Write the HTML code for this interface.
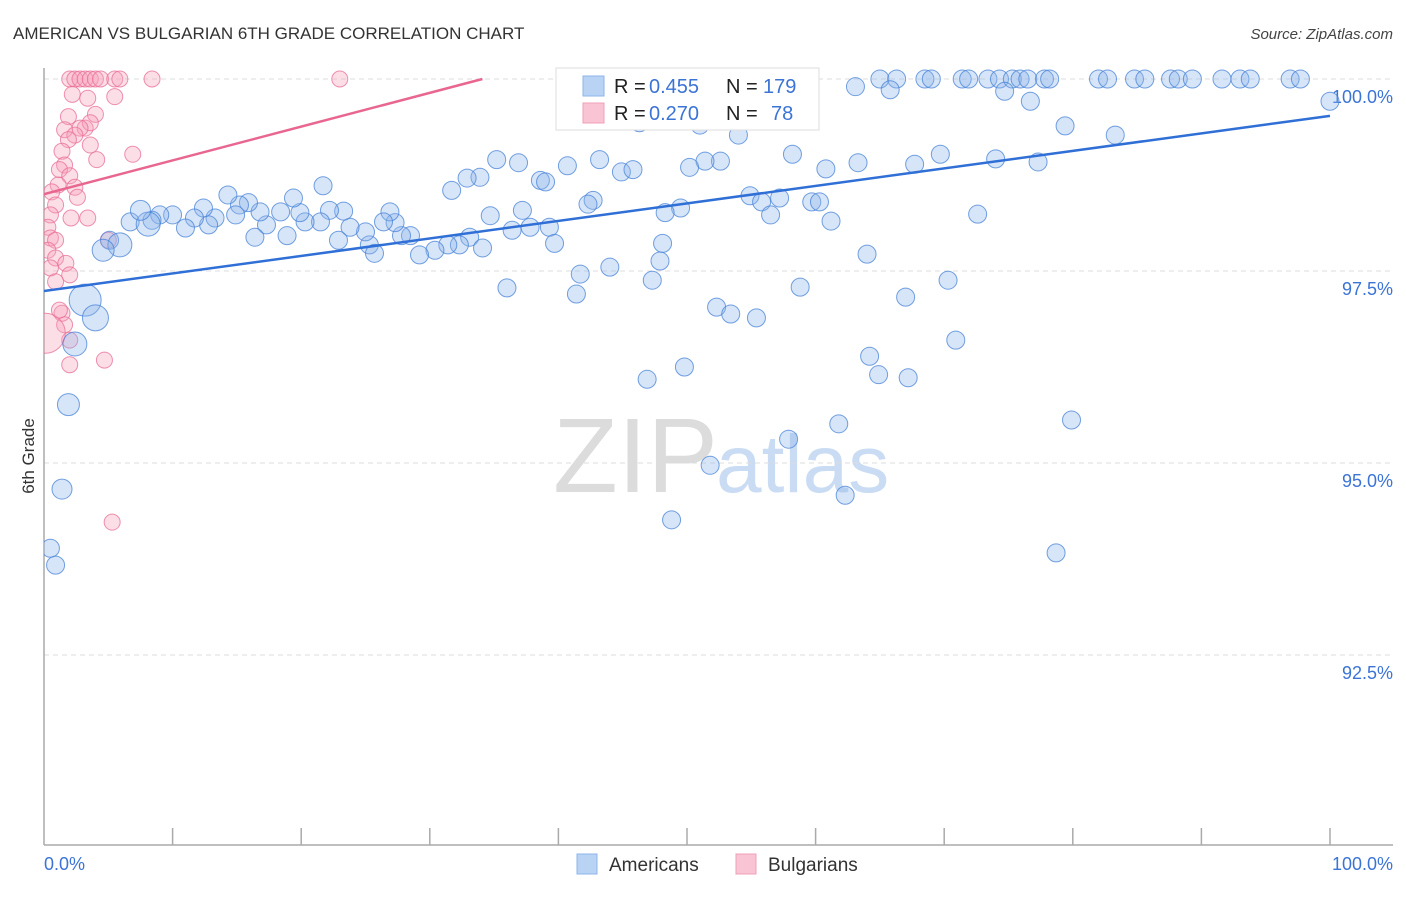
<!DOCTYPE html>
<html><head><meta charset="utf-8">
<style>
html,body{margin:0;padding:0;background:#fff;}
body{width:1406px;height:892px;overflow:hidden;font-family:"Liberation Sans",sans-serif;}
svg text{font-family:"Liberation Sans",sans-serif;}
</style></head>
<body>
<svg id="chart" width="1406" height="892" viewBox="0 0 1406 892" xmlns="http://www.w3.org/2000/svg">
<text x="13" y="39" font-size="17" fill="#333">AMERICAN VS BULGARIAN 6TH GRADE CORRELATION CHART</text>
<text x="1393" y="39" font-size="15" fill="#444" text-anchor="end" font-style="italic">Source: ZipAtlas.com</text>
<g>
<text x="553" y="492" font-size="106" fill="#dcdcdc" font-family="Liberation Serif, serif">ZIP</text>
<text x="716" y="492" font-size="82" fill="#c9dcf3">atlas</text>
</g>
<g id="grid"></g>
<g id="axes"></g>
<defs><clipPath id="clip"><rect x="44" y="60" width="1360" height="785"/></clipPath></defs>
<g id="pinkPts" clip-path="url(#clip)"></g>
<g id="bluePts" clip-path="url(#clip)"></g>
<g id="lines" clip-path="url(#clip)"></g>
<text transform="translate(34,456) rotate(-90)" font-size="17" fill="#333" text-anchor="middle">6th Grade</text>
<text x="44" y="870" font-size="18" fill="#3b74d6">0.0%</text>
<text x="1393" y="870" font-size="18" fill="#3b74d6" text-anchor="end">100.0%</text>
<g>
<rect x="556" y="68" width="263" height="62" fill="#fff" stroke="#ddd"/>
<rect x="583" y="76" width="21" height="20" fill="#b9d3f5" stroke="#8db4ea"/>
<rect x="583" y="103" width="21" height="20" fill="#f9c5d4" stroke="#f0a0b8"/>
<text x="614" y="93" font-size="20" fill="#222">R =</text>
<text x="649" y="93" font-size="20" fill="#3b74d6">0.455</text>
<text x="726" y="93" font-size="20" fill="#222">N =</text>
<text x="763" y="93" font-size="20" fill="#3b74d6">179</text>
<text x="614" y="120" font-size="20" fill="#222">R =</text>
<text x="649" y="120" font-size="20" fill="#3b74d6">0.270</text>
<text x="726" y="120" font-size="20" fill="#222">N =</text>
<text x="771" y="120" font-size="20" fill="#3b74d6">78</text>
</g>
<g>
<rect x="577" y="854" width="20" height="20" fill="#b9d3f5" stroke="#8db4ea"/>
<text x="609" y="871" font-size="19" fill="#333">Americans</text>
<rect x="736" y="854" width="20" height="20" fill="#f9c5d4" stroke="#f0a0b8"/>
<text x="768" y="871" font-size="19" fill="#333">Bulgarians</text>
</g>
</svg>
<script>
const yTicks=[100,97.5,95,92.5];
const yTickLabels=["100.0%","97.5%","95.0%","92.5%"];
const blueX=[59.2,65.0,66.3,68.5,69.0,71.4,71.9,73.4,74.3,75.3,75.9,76.5,77.8,78.2,82.0,82.7,84.8,85.6,87.6,88.2,89.3,91.6,93.0,93.8,96.9,97.7,
63.1,65.8,74.7,76.7,100,79.4,83.3,54.0,46.3,51.0,58.2,69.7,74.0,77.3,67.7,63.3,60.8,52.6,51.4,50.2,44.9,43.2,40.7,36.9,35.2,33.9,32.9,31.7,38.6,39.0,42.7,42.3,37.2,34.7,36.4,37.8,39.3,39.7,33.1,32.3,31.4,30.4,29.2,28.5,27.8,27.3,26.9,26.4,25.3,25.7,25.0,23.8,22.9,23.3,22.2,21.5,20.3,19.9,19.4,18.9,18.4,17.3,16.8,16.4,15.9,15.2,14.9,14.3,13.3,12.8,12.4,11.7,11.0,10.0,9.0,8.4,6.7,5.1,21.7,34.1,48.1,49.5,48.3,45.8,54.9,55.8,57.2,56.5,59.7,60.3,61.2,72.6,64.0,47.9,44.0,41.7,47.3,36.0,41.4,58.8,70.3,67.0,52.3,53.4,55.4,70.9,64.2,64.9,67.2,49.8,46.9,79.9,61.8,57.9,51.8,62.3,48.8,78.7,
3.2,4.0,2.4,1.9,1.4,0.5,0.9,5.9,4.6,8.1,7.5];
const blueY=[100,100,100,100,100,100,100,100,100,100,100,100,100,100,100,100,100,100,100,100,100,100,100,100,100,100,
99.9,99.86,99.84,99.71,99.71,99.39,99.27,99.27,99.43,99.40,99.02,99.02,98.96,98.92,98.89,98.91,98.83,98.93,98.93,98.85,98.79,98.95,98.87,98.91,98.95,98.72,98.71,98.55,98.68,98.66,98.42,98.37,98.29,98.22,98.03,98.07,98.07,97.86,97.94,97.84,97.84,97.77,97.71,97.96,97.96,98.13,98.27,98.14,97.84,97.73,98.01,98.07,97.90,98.28,98.29,98.14,98.14,98.26,98.45,97.96,98.27,98.10,98.27,97.94,98.39,98.36,98.23,98.49,98.19,98.10,98.32,98.19,98.06,98.23,98.23,98.16,98.14,97.90,98.61,97.80,97.86,98.32,98.26,98.82,98.48,98.40,98.45,98.23,98.40,98.40,98.15,98.24,97.72,97.63,97.55,97.46,97.38,97.28,97.20,97.29,97.38,97.16,97.03,96.94,96.89,96.60,96.39,96.15,96.11,96.25,96.09,95.56,95.51,95.31,94.97,94.58,94.26,93.83,
97.12,96.89,96.55,95.76,94.66,93.89,93.67,97.84,97.77,98.11,98.29];
const blueSize=[16,13,12,11,10,9,9,12,11,12,10];
const pinkX=[2.0,2.4,2.8,3.2,3.6,4.0,4.4,5.5,5.9,8.4,23.0,2.2,5.5,3.4,4.0,1.9,1.6,3.2,3.6,2.8,2.4,1.9,6.9,1.4,4.1,1.6,1.2,2.0,1.1,2.4,0.6,2.6,0.9,0.5,2.1,3.4,0.3,0.5,0.9,0.3,0.9,1.7,2.0,0.5,0.9,1.4,1.6,2.0,0.1,4.7,2.0,5.3,1.2,3.6,5.0];
const pinkY=[100,100,100,100,100,100,100,100,100,100,100,99.80,99.77,99.75,99.54,99.51,99.34,99.36,99.43,99.36,99.27,99.21,99.02,99.06,98.95,98.88,98.82,98.74,98.62,98.59,98.53,98.46,98.36,98.23,98.19,98.19,98.07,97.93,97.90,97.77,97.67,97.60,97.45,97.54,97.36,96.95,96.80,96.60,96.69,96.34,96.28,94.23,96.99,99.14,97.9];
const blueTrend=[97.24,99.52];
const pinkTrend=[98.50,102.9];

const X0=44,X1=1330,Y100=79,PX_PER=76.8;
function xs(v){return X0+(X1-X0)*v/100;}
function ys(v){return Y100+(100-v)*PX_PER;}
const NS="http://www.w3.org/2000/svg";
function mk(tag,attrs,parent){const e=document.createElementNS(NS,tag);for(const k in attrs)e.setAttribute(k,attrs[k]);parent.appendChild(e);return e;}

const grid=document.getElementById('grid');
yTicks.forEach((t,i)=>{
  const l=mk('line',{x1:44,x2:1393,y1:ys(t),y2:ys(t),stroke:'#ddd','stroke-dasharray':'5,4'},grid);
  
  
  const tx=mk('text',{x:1393,y:ys(t)+24,'font-size':18,fill:'#3b74d6','text-anchor':'end'},grid);
  tx.textContent=yTickLabels[i];
  
  
});
const axes=document.getElementById('axes');
const ya=mk('line',{x1:44,x2:44,y1:68,y2:845,stroke:'#aaa','stroke-width':1.5},axes);


const xa=mk('line',{x1:44,x2:1393,y1:845,y2:845,stroke:'#aaa','stroke-width':1.5},axes);


for(let k=1;k<=10;k++){
  const t=mk('line',{x1:xs(k*10),x2:xs(k*10),y1:828,y2:845,stroke:'#aaa','stroke-width':1.5},axes);
  
  
}
const pg=document.getElementById('pinkPts');
pinkX.forEach((x,i)=>{
  const r=(i===48)?20:8;
  const c=mk('circle',{cx:xs(x),cy:ys(pinkY[i]),r:r,fill:'rgba(246,160,186,0.35)',stroke:'rgba(232,110,150,0.75)','stroke-width':1},pg);
  
  
});
const bg=document.getElementById('bluePts');
const nb=blueX.length, bigStart=nb-blueSize.length;
blueX.forEach((x,i)=>{
  const r=i>=bigStart?blueSize[i-bigStart]:9;
  const c=mk('circle',{cx:xs(x),cy:ys(blueY[i]),r:r,fill:'rgba(140,180,235,0.35)',stroke:'rgba(70,130,215,0.75)','stroke-width':1},bg);
  
  
});
const lg=document.getElementById('lines');
const bl=mk('line',{x1:xs(0),y1:ys(blueTrend[0]),x2:xs(100),y2:ys(blueTrend[1]),stroke:'#2f6fd6','stroke-width':2.5},lg);


const pl=mk('line',{x1:xs(0),y1:ys(pinkTrend[0]),x2:xs(100),y2:ys(pinkTrend[1]),stroke:'#e86690','stroke-width':2.5},lg);


const xEnd=(100-pinkTrend[0])/((pinkTrend[1]-pinkTrend[0])/100);
pl.setAttribute('x2',xs(xEnd));pl.setAttribute('y2',ys(100));
</script>
</body></html>
